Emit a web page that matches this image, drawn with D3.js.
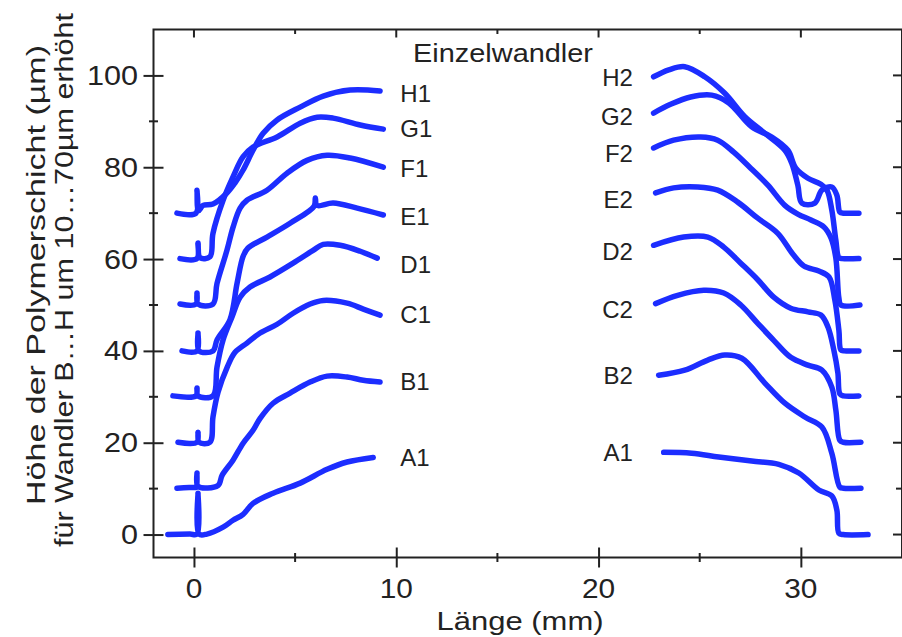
<!DOCTYPE html>
<html>
<head>
<meta charset="utf-8">
<title>Einzelwandler</title>
<script src="https://cdn.jsdelivr.net/npm/d3@7"></script>
<style>
  body { margin: 0; background: #fff; }
  svg { display: block; font-family: "Liberation Sans", Arial, sans-serif; }
  .frame path, .frame line { stroke: #222; stroke-width: 2; }
  .ticklabel { font-size: 27px; fill: #222; }
  .curvelabel { font-size: 24px; fill: #222; }
</style>
</head>
<body>
<svg id="chart" width="902" height="637"></svg>
<script>
// offsets: Wandler B...H shifted by 10...70 um
const offsets = [0, 10, 20, 30, 40, 50, 60, 70];
const leftNames = ["A1", "B1", "C1", "D1", "E1", "F1", "G1", "H1"];
const rightNames = ["A1", "B2", "C2", "D2", "E2", "F2", "G2", "H2"];

// label heights (already shifted)
const leftLabelY = [16.8, 33.4, 47.9, 58.9, 69.3, 79.8, 88.5, 96.1];
const rightLabelY = [17.9, 34.7, 49.1, 61.7, 73.1, 83.1, 91.1, 99.6];

const xTicks = [0, 10, 20, 30];
const xMinor = [5, 15, 25];
const yTicks = [0, 20, 40, 60, 80, 100];
const yMinor = [10, 30, 50, 70, 90];

// [length mm, height um] before offset
const leftA1 = [[-1.29,0],[-0.2,0.1],[0.15,0.1],[0.2,9.0],[0.25,0.1],[0.64,0.1],[1.44,1.6],[1.93,3.1],[2.43,4.4],[2.92,6.8],[3.91,9.0],[5.25,11.2],[6.58,14.2],[7.57,15.8],[8.86,16.8]];
const leftB1 = [[-0.84,0.1],[0.05,0.3],[0.12,0.3],[0.15,3.4],[0.2,0.5],[1.19,0.7],[1.39,2.9],[1.93,6.2],[2.43,9.9],[2.92,12.7],[3.27,15.3],[3.91,18.6],[4.75,20.8],[5.74,23.2],[6.58,24.5],[7.57,24.3],[8.37,23.6],[9.2,23.2]];
const leftC1 = [[-0.79,0.1],[0.15,0.1],[0.2,2.3],[0.25,0.1],[0.79,0.1],[0.94,5.6],[1.19,11.0],[1.63,16.3],[2.03,19.7],[2.62,21.7],[3.27,23.9],[4.11,25.8],[4.9,28.2],[5.74,30.2],[6.39,31.0],[7.57,30.4],[8.37,29.1],[9.2,27.8]];
const leftD1 = [[-1.04,0.2],[0.1,0.2],[0.15,1.9],[0.2,0.2],[0.94,0.2],[1.14,6.5],[1.44,12.4],[1.88,17.4],[2.28,21.7],[2.77,23.9],[3.76,26.1],[4.9,29.1],[5.89,31.9],[6.39,33.2],[7.23,33.0],[8.22,31.7],[9.06,30.2]];
const leftE1 = [[-0.59,0],[0.15,0],[0.2,3.9],[0.25,0],[0.94,0],[1.14,2.4],[1.78,6.8],[2.13,14.7],[2.43,20.6],[2.67,22.4],[3.61,24.8],[4.75,27.8],[5.94,31.5],[6.0,33.3],[6.08,31.7],[6.88,32.2],[8.07,31.1],[9.36,29.6]];
const leftF1 = [[-0.69,0.2],[0.1,0.2],[0.15,2.6],[0.2,0.2],[0.94,0.2],[1.14,4.7],[1.63,11.9],[1.93,16.9],[2.28,21.1],[2.62,22.8],[3.61,25.0],[4.6,28.7],[5.59,31.5],[6.58,32.6],[7.72,32.0],[9.36,30.0]];
const leftG1 = [[-0.69,0.1],[0.15,0.1],[0.2,3.5],[0.3,0.3],[0.79,0.5],[0.94,5.6],[1.44,12.8],[1.93,17.9],[2.43,22.3],[2.92,24.4],[4.11,26.6],[5.25,29.6],[6.09,30.9],[6.88,30.7],[8.22,29.2],[9.36,28.3]];
const leftH1 = [[-0.84,0],[0.1,0],[0.15,5.0],[0.22,0.5],[0.45,1.7],[0.94,2.0],[1.63,4.4],[2.03,6.6],[2.43,9.4],[2.92,13.7],[3.42,17.4],[4.11,20.3],[5.25,23.1],[6.39,25.5],[7.72,26.8],[9.2,26.6]];

const rightA1 = [[23.22,17.9],[24.6,17.7],[25.94,16.9],[27.57,16.0],[28.91,15.3],[29.9,13.4],[30.89,9.7],[31.53,8.4],[31.78,5.3],[31.88,0.3],[32.1,0],[33.32,0]];
const rightB2 = [[22.97,24.7],[24.26,25.8],[25.4,28.0],[26.24,29.1],[27.08,28.4],[28.22,23.0],[29.21,18.6],[30.2,15.6],[31.04,13.4],[31.53,7.7],[31.93,0.3],[32.1,0.1],[32.97,0.1]];
const rightC2 = [[22.82,30.3],[23.91,32.1],[25.2,33.2],[26.19,32.6],[27.03,30.0],[27.87,26.0],[28.66,22.3],[29.5,18.6],[30.35,16.9],[31.04,15.8],[31.53,12.1],[31.73,7.1],[31.93,0.5],[32.1,0.1],[32.97,0.1]];
const rightD2 = [[22.72,33.0],[24.21,34.8],[25.4,34.8],[26.19,32.6],[27.03,29.1],[27.87,25.5],[28.66,21.7],[29.5,19.3],[30.35,18.5],[30.99,17.8],[31.34,15.2],[31.63,10.2],[31.83,5.2],[31.93,0.6],[32.1,0.2],[32.87,0.2]];
const rightE2 = [[22.82,34.4],[23.71,35.5],[24.9,35.7],[25.89,35.0],[26.88,32.4],[27.87,28.9],[28.86,25.6],[29.6,21.1],[30.15,18.5],[30.89,17.4],[31.39,16.1],[31.68,11.1],[31.88,4.5],[31.98,0.2],[32.15,0],[32.87,0]];
const rightF2 = [[22.72,34.2],[23.71,35.9],[25.05,36.6],[25.89,35.9],[26.68,33.3],[27.52,29.8],[28.37,26.1],[29.21,21.7],[29.85,19.8],[30.5,18.5],[31.14,17.0],[31.49,14.6],[31.73,10.2],[31.88,1.5],[31.98,0],[32.92,0]];
const rightG2 = [[22.72,31.8],[23.56,33.7],[24.55,35.3],[25.59,35.7],[26.44,34.0],[27.57,28.8],[28.56,26.6],[29.36,23.7],[29.75,19.8],[30.35,17.6],[30.99,16.3],[31.29,15.0],[31.53,10.7],[31.73,4.1],[31.88,0.3],[32.05,0.1],[32.87,0.1]];
const rightH2 = [[22.72,29.7],[23.47,31.2],[24.26,31.9],[25.25,29.7],[26.24,26.1],[27.23,21.0],[28.22,17.4],[29.21,13.7],[29.55,10.9],[29.85,6.1],[30.05,2.2],[30.69,2.2],[31.04,5.0],[31.53,5.7],[31.78,3.9],[31.93,0.2],[32.1,0],[32.87,0]];

const leftSeries = [leftA1, leftB1, leftC1, leftD1, leftE1, leftF1, leftG1, leftH1];
const rightSeries = [rightA1, rightB2, rightC2, rightD2, rightE2, rightF2, rightG2, rightH2];

const svg = d3.select("#chart");
const L = 153.5, R = 902, T = 29.5, B = 557.5;
const x = d3.scaleLinear().domain([-2, 35]).range([L, R]);
const y = d3.scaleLinear().domain([-5, 110]).range([B, T]);
const blue = "#1c2dff";

// frame
const g = svg.append("g").attr("class", "frame");
g.append("rect").attr("x", L).attr("y", T).attr("width", R - L).attr("height", B - T)
  .attr("fill", "none").attr("stroke", "#222").attr("stroke-width", 2);

// bottom axis, ticks crossing the line
const bottom = g.append("g").attr("transform", `translate(0,${B})`)
  .call(d3.axisBottom(x).tickValues(xTicks).tickSize(10).tickPadding(0).tickFormat(""));
bottom.select(".domain").remove();
bottom.selectAll(".tick line").attr("y1", -10).attr("y2", 10);
g.selectAll(".xminor").data(xMinor).join("line")
  .attr("x1", d => x(d)).attr("x2", d => x(d)).attr("y1", B - 4.5).attr("y2", B + 4.5);
svg.selectAll(".xlab").data(xTicks).join("text").attr("class", "ticklabel")
  .attr("x", d => x(d)).attr("y", 598).attr("text-anchor", "middle")
  .attr("textLength", d => String(d).length * 16.6).attr("lengthAdjust", "spacingAndGlyphs")
  .text(d => d);

// left axis
const left = g.append("g").attr("transform", `translate(${L},0)`)
  .call(d3.axisLeft(y).tickValues(yTicks).tickSize(10).tickFormat(""));
left.select(".domain").remove();
left.selectAll(".tick line").attr("x1", -10).attr("x2", 10);
g.selectAll(".yminor").data(yMinor).join("line")
  .attr("y1", d => y(d)).attr("y2", d => y(d)).attr("x1", L - 4.5).attr("x2", L + 4.5);
svg.selectAll(".ylab").data(yTicks).join("text").attr("class", "ticklabel")
  .attr("x", 138).attr("y", d => y(d) + 9.5).attr("text-anchor", "end")
  .attr("textLength", d => String(d).length * 17).attr("lengthAdjust", "spacingAndGlyphs")
  .text(d => d);

// top axis, inward ticks
g.selectAll(".ttick").data(xTicks.concat(xMinor)).join("line")
  .attr("x1", d => x(d)).attr("x2", d => x(d)).attr("y1", T)
  .attr("y2", d => T + (d % 10 === 0 ? 8 : 4.5));
// right axis, inward ticks
g.selectAll(".rtick").data(yTicks.concat(yMinor)).join("line")
  .attr("y1", d => y(d)).attr("y2", d => y(d)).attr("x1", R)
  .attr("x2", d => R - (d % 20 === 0 ? 9 : 6));

// curves
const line = d3.line()
  .x(d => x(d[0])).y(d => y(d[1]))
  .curve(d3.curveCatmullRom.alpha(0.5));

const plot = svg.append("g");
[leftSeries, rightSeries].forEach(group => {
  group.forEach((pts, i) => {
    plot.append("path")
      .attr("d", line(pts.map(p => [p[0], p[1] + offsets[i]])))
      .attr("fill", "none").attr("stroke", blue).attr("stroke-width", 5.5)
      .attr("stroke-linejoin", "round").attr("stroke-linecap", "round");
  });
});

// curve names
svg.selectAll(".lname").data(leftNames).join("text").attr("class", "curvelabel")
  .attr("x", x(10.2)).attr("y", (d, i) => y(leftLabelY[i]) + 8.6)
  .text(d => d);
svg.selectAll(".rname").data(rightNames).join("text").attr("class", "curvelabel")
  .attr("x", x(21.7)).attr("y", (d, i) => y(rightLabelY[i]) + 8.6)
  .attr("text-anchor", "end").text(d => d);

svg.append("text").attr("class", "curvelabel")
  .attr("x", 413).attr("y", 62).style("font-size", "25px")
  .attr("textLength", 180).attr("lengthAdjust", "spacingAndGlyphs")
  .text("Einzelwandler");

// axis titles
svg.append("text").attr("class", "curvelabel")
  .attr("x", 520).attr("y", 630).attr("text-anchor", "middle").style("font-size", "26px")
  .attr("textLength", 167).attr("lengthAdjust", "spacingAndGlyphs")
  .text("Länge (mm)");

const yTitle = [
  { text: "Höhe der Polymerschicht (µm)", x: 45, y: 275, len: 460 },
  { text: "für Wandler B…H um 10…70µm erhöht", x: 73, y: 280, len: 534 }
];
svg.selectAll(".ytitle").data(yTitle).join("text").attr("class", "curvelabel")
  .style("font-size", "26.5px").attr("text-anchor", "middle")
  .attr("transform", d => `translate(${d.x},${d.y}) rotate(-90)`)
  .attr("textLength", d => d.len).attr("lengthAdjust", "spacingAndGlyphs")
  .text(d => d.text);
</script>
</body>
</html>
